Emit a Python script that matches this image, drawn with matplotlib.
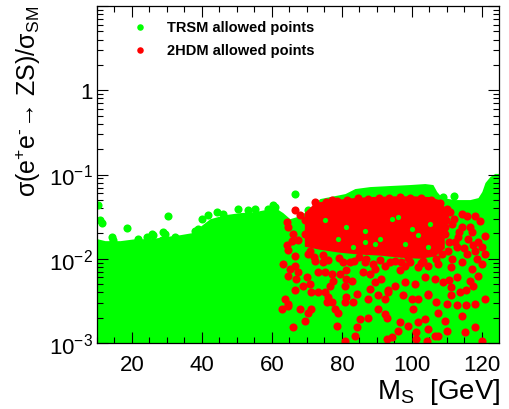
import matplotlib
matplotlib.use('Agg')
import matplotlib.pyplot as plt
from matplotlib.ticker import MultipleLocator, LogLocator, FixedLocator, FixedFormatter, NullFormatter

plt.rcParams['font.family'] = ['Liberation Sans', 'DejaVu Sans']
plt.rcParams['mathtext.fontset'] = 'custom'
plt.rcParams['mathtext.rm'] = 'Liberation Sans'
plt.rcParams['mathtext.it'] = 'Liberation Sans'
plt.rcParams['mathtext.sf'] = 'Liberation Sans'
plt.rcParams['mathtext.bf'] = 'Liberation Sans:bold'

# ---------------- data ----------------
# upper envelope of the dense TRSM (green) cloud
green_env_x = [10.0, 12.3, 16.6, 20.9, 25.1, 29.4, 33.7, 37.1, 39.4, 42.3, 46.6, 50.9, 55.1, 58.0,
               60.9, 63.1, 65.1, 68.0, 70.9, 73.7, 78.0, 80.9, 83.7, 88.0, 93.7, 99.4, 103.7,
               106.0, 107.1, 108.6, 112.3, 116.6, 118.9, 120.0, 120.9, 122.3, 123.7, 125.0]
green_env_y = [1.73e-2, 1.64e-2, 1.64e-2, 1.73e-2, 1.73e-2, 1.83e-2, 1.93e-2, 2.04e-2, 2.41e-2,
               2.99e-2, 3.34e-2, 3.53e-2, 3.63e-2, 3.83e-2, 4.05e-2, 3.53e-2, 2.99e-2, 3.25e-2,
               3.94e-2, 5.18e-2, 5.62e-2, 5.94e-2, 6.81e-2, 7.19e-2, 7.40e-2, 7.60e-2, 7.81e-2,
               7.60e-2, 6.28e-2, 5.32e-2, 5.04e-2, 5.04e-2, 5.32e-2, 6.28e-2, 8.03e-2, 9.46e-2,
               0.103, 0.103]

# individual TRSM points on the edge of the cloud
green_x = [10.4, 10.9, 11.5, 14.2, 14.7, 18.5, 21.8, 24.2, 26.1, 29.4, 32.3, 30.2, 36.6, 38.9,
           28.5, 34.6, 39.9, 41.8, 44.2, 46.1, 50.4, 53.2, 55.1, 60.4, 58.9, 66.6, 70.4, 60.9,
           112.0, 108.9, 25.6, 28.9, 38.0]
green_y = [4.40e-2, 2.86e-2, 2.69e-2, 1.81e-2, 1.65e-2, 2.32e-2, 1.73e-2, 1.81e-2, 1.90e-2,
           1.99e-2, 1.81e-2, 3.19e-2, 1.73e-2, 2.28e-2, 1.65e-2, 1.51e-2, 2.99e-2, 3.27e-2,
           3.60e-2, 3.43e-2, 3.94e-2, 3.76e-2, 3.94e-2, 4.32e-2, 3.94e-2, 5.94e-2, 3.83e-2,
           4.12e-2, 5.57e-2, 5.40e-2, 1.99e-2, 2.10e-2, 2.15e-2]

# TRSM points visible inside the 2HDM core
green_in_x = [81.3, 75.1, 86.6, 96.1, 94.3, 101.7, 105.1, 90.9, 83.2, 73.2, 89.4, 86.6, 78.9,
              100.0, 104.6, 98.0]
green_in_y = [2.38e-2, 2.86e-2, 1.58e-2, 3.13e-2, 2.99e-2, 1.93e-2, 2.61e-2, 1.73e-2, 1.39e-2,
              1.09e-2, 1.51e-2, 2.15e-2, 1.73e-2, 2.28e-2, 1.39e-2, 1.51e-2]

# outline of the dense 2HDM (red) core
red_core_x = [69.4, 71.4, 73.7, 78.0, 82.3, 88.0, 95.1, 100.9, 105.1, 108.0, 109.4,
              109.4, 106.6, 102.3, 96.6, 90.9, 85.1, 79.4, 73.7, 69.4]
red_core_y = [3.5e-2, 4.2e-2, 4.7e-2, 4.95e-2, 5.2e-2, 5.4e-2, 5.5e-2, 5.5e-2, 5.4e-2,
              4.95e-2, 4.1e-2, 1.32e-2, 1.06e-2, 1.00e-2, 1.03e-2, 1.09e-2, 1.12e-2, 1.18e-2,
              1.28e-2, 1.39e-2]

# individual 2HDM points
red_x = [63.2, 65.1, 66.6, 67.5, 64.7, 67.0, 69.9, 70.9, 69.0, 66.6, 71.3, 73.2, 63.7, 64.7,
         68.0, 62.8, 70.4, 71.3, 69.4, 66.1, 72.3, 74.7, 77.1, 73.2, 75.1, 79.4, 77.5, 76.6,
         75.1, 76.1, 75.6, 77.1, 78.0, 79.0, 81.3, 81.3, 82.8, 80.9, 84.2, 81.3, 80.9, 83.2,
         78.5, 80.9, 83.7, 84.2, 85.1, 87.5, 86.1, 88.0, 89.4, 89.4, 91.3, 88.0, 87.5, 90.4,
         92.3, 90.4, 92.3, 92.8, 82.3, 86.6, 80.4, 92.3, 93.2,
         93.7, 96.6, 98.0, 99.4, 101.8, 104.7, 107.5, 111.3, 114.2, 117.1, 119.9, 118.9, 117.5,
         115.6, 113.7, 111.3, 108.9, 106.6, 103.7, 100.9, 98.0, 95.1, 93.2, 97.5, 99.9, 101.8,
         104.7, 107.0, 109.9, 112.8, 115.6, 118.0, 120.9, 92.8, 96.6, 100.4, 107.5, 109.4,
         114.2, 96.1, 98.9, 101.8, 103.7, 101.3, 104.7, 106.6, 107.5, 109.9, 104.2, 101.3,
         94.2, 115.1, 118.0, 119.9, 104.7, 111.3,
         107.4, 110.0, 110.9, 114.3, 115.7, 118.0, 119.4, 116.6, 114.3, 111.4, 109.4, 113.1,
         116.0, 120.9, 120.0, 118.0, 115.7, 112.9, 110.3, 111.4, 118.6, 112.3, 117.1, 120.9,
         112.0, 109.8, 113.5, 119.0, 115.0, 110.5, 117.5,
         66.6, 68.0, 72.3, 73.2, 77.1, 64.7, 64.2, 66.1, 67.5, 69.4, 70.9, 66.6, 70.4, 64.7,
         69.4, 64.3, 65.7, 64.6,
         72.0, 76.0, 79.2, 83.5, 87.0, 91.0, 95.3, 99.0, 103.2, 106.8, 71.0, 108.5, 74.5, 84.8,
         97.0, 102.5, 89.0, 110.5, 113.0, 116.5,
         72.5, 75.5, 78.5, 81.5, 84.5, 87.5, 90.5, 93.5, 96.5, 99.5, 102.5, 105.5, 108.0,
         109.6, 109.5]
red_y = [8.7e-3, 7.6e-3, 8.1e-3, 6.9e-3, 6.3e-3, 5.8e-3, 6.1e-3, 5.0e-3, 4.8e-3, 4.2e-3,
         4.0e-3, 4.0e-3, 3.3e-3, 2.9e-3, 2.5e-3, 2.5e-3, 2.3e-3, 2.5e-3, 1.84e-3, 1.54e-3,
         9.5e-3, 9.1e-3, 6.6e-3, 6.9e-3, 6.9e-3, 6.6e-3, 5.5e-3, 4.8e-3, 4.0e-3, 3.5e-3,
         3.1e-3, 3.05e-3, 2.5e-3, 2.3e-3, 7.3e-3, 5.8e-3, 5.5e-3, 4.8e-3, 3.8e-3, 3.5e-3,
         3.05e-3, 3.05e-3, 1.6e-3, 1.07e-3, 1.22e-3, 1.54e-3, 1.93e-3, 2.0e-3, 6.9e-3, 6.6e-3,
         7.6e-3, 5.3e-3, 5.8e-3, 4.4e-3, 3.3e-3, 3.7e-3, 3.3e-3, 2.5e-3, 2.2e-3, 1.12e-3,
         9.1e-3, 9.1e-3, 9.1e-3, 8.3e-3, 4.2e-3,
         9.1e-3, 7.3e-3, 8.3e-3, 9.1e-3, 8.0e-3, 8.3e-3, 8.7e-3, 8.0e-3, 9.1e-3, 7.6e-3,
         8.7e-3, 6.3e-3, 4.8e-3, 4.2e-3, 4.0e-3, 4.6e-3, 5.3e-3, 5.8e-3, 6.1e-3, 5.0e-3,
         5.3e-3, 4.8e-3, 4.0e-3, 3.7e-3, 3.3e-3, 3.3e-3, 3.8e-3, 3.05e-3, 2.9e-3, 2.8e-3,
         2.8e-3, 2.9e-3, 3.3e-3, 2.0e-3, 1.76e-3, 2.5e-3, 2.3e-3, 1.84e-3, 2.1e-3, 1.4e-3,
         1.6e-3, 1.76e-3, 1.93e-3, 1.34e-3, 1.47e-3, 1.22e-3, 1.22e-3, 1.4e-3, 1.07e-3,
         1.12e-3, 1.17e-3, 1.34e-3, 1.54e-3, 1.07e-3, 3.7e-3, 3.7e-3,
         4.16e-2, 3.94e-2, 3.63e-2, 3.43e-2, 3.25e-2, 3.25e-2, 2.83e-2, 2.41e-2, 2.41e-2,
         2.61e-2, 1.99e-2, 1.83e-2, 1.73e-2, 1.88e-2, 1.39e-2, 1.24e-2, 1.15e-2, 1.39e-2,
         1.24e-2, 1.0e-2, 1.0e-2, 1.59e-2, 2.10e-2, 1.15e-2,
         3.0e-2, 2.9e-2, 2.1e-2, 1.6e-2, 1.35e-2, 1.6e-2, 1.45e-2,
         3.76e-2, 3.27e-2, 4.73e-2, 4.12e-2, 4.94e-2, 2.38e-2, 1.44e-2, 1.99e-2, 1.65e-2,
         1.99e-2, 1.58e-2, 1.09e-2, 1.15e-2, 1.26e-2, 2.86e-2, 2.75e-2, 1.64e-2, 2.75e-3,
         1.05e-2, 9.6e-3, 1.02e-2, 9.4e-3, 1.0e-2, 9.7e-3, 9.5e-3, 1.01e-2, 9.4e-3, 9.8e-3,
         1.25e-2, 1.15e-2, 1.12e-2, 1.05e-2, 9.2e-3, 9.0e-3, 8.6e-3, 5.6e-3, 6.0e-3, 5.5e-3,
         4.4e-2, 4.75e-2, 4.85e-2, 5.0e-2, 5.2e-2, 5.1e-2, 5.3e-2, 5.2e-2, 5.4e-2, 5.3e-2,
         5.3e-2, 5.0e-2, 4.6e-2,
         3.4e-2, 2.4e-2]

legend_labels = ['TRSM allowed points', '2HDM allowed points']
x_ticks = [20, 40, 60, 80, 100, 120]
y_ticks = [1e-3, 1e-2, 1e-1, 1]
y_tick_labels = [r'$10^{-3}$', r'$10^{-2}$', r'$10^{-1}$', '1']
x_label = r'$\mathregular{M_{S}}$  [GeV]'
y_label = 'σ(e$^{+}$e$^{‐}$→ ZS)/σ$_{SM}$'

GREEN = '#00ff00'
RED = '#ff0000'
MS = 34

# ---------------- figure ----------------
W, H = 509, 410
fig = plt.figure(figsize=(W / 100, H / 100), dpi=100)
ax = fig.add_axes([97 / W, 1 - 344 / H, 402 / W, 337 / H])
ax.set_yscale('log')
ax.set_xlim(10, 124.9)
ax.set_ylim(1e-3, 10)

ax.fill_between(green_env_x, 1e-4, green_env_y, color=GREEN, lw=0, zorder=1)
ax.scatter(green_x, green_y, s=MS, c=GREEN, linewidths=0, zorder=2)
ax.fill(red_core_x, red_core_y, color=RED, lw=0, zorder=3)
ax.scatter(green_in_x, green_in_y, s=14, c=GREEN, linewidths=0, zorder=4)
ax.scatter(red_x, red_y, s=MS, c=RED, linewidths=0, zorder=5)

# ticks, ROOT style
ax.xaxis.set_major_locator(FixedLocator(x_ticks))
ax.xaxis.set_minor_locator(MultipleLocator(5))
ax.yaxis.set_major_locator(FixedLocator(y_ticks + [10]))
ax.yaxis.set_major_formatter(FixedFormatter(y_tick_labels + ['']))
ax.yaxis.set_minor_locator(LogLocator(base=10, subs=[2, 3, 4, 5, 6, 7, 8, 9]))
ax.yaxis.set_minor_formatter(NullFormatter())
ax.tick_params(which='both', direction='in', top=True, right=True, width=0.8, colors='black')
ax.tick_params(which='major', length=8)
ax.tick_params(which='minor', length=4)
ax.tick_params(axis='x', which='major', labelsize=16, pad=8)
ax.tick_params(axis='y', which='major', labelsize=16, pad=3)
for sp in ax.spines.values():
    sp.set_linewidth(0.9)
    sp.set_zorder(10)

# legend (ROOT TLegend style, no frame)
leg_marker_x = 0.107
leg_text_x = 0.174
leg_rows_y = [0.938, 0.870]
for lab, col, yy in zip(legend_labels, [GREEN, RED], leg_rows_y):
    ax.scatter([leg_marker_x], [yy], s=22, c=col, linewidths=0, transform=ax.transAxes,
               clip_on=False, zorder=6)
    ax.text(leg_text_x, yy, lab, transform=ax.transAxes, fontsize=10.5, fontweight='bold',
            ha='left', va='center')

fig.text(500 / W, 1 - 392 / H, x_label, ha='right', va='center', fontsize=20)
fig.text(28 / W, 1 - 6 / H, y_label, ha='center', va='top', rotation=90, fontsize=18)

fig.savefig('out.png', dpi=100)
